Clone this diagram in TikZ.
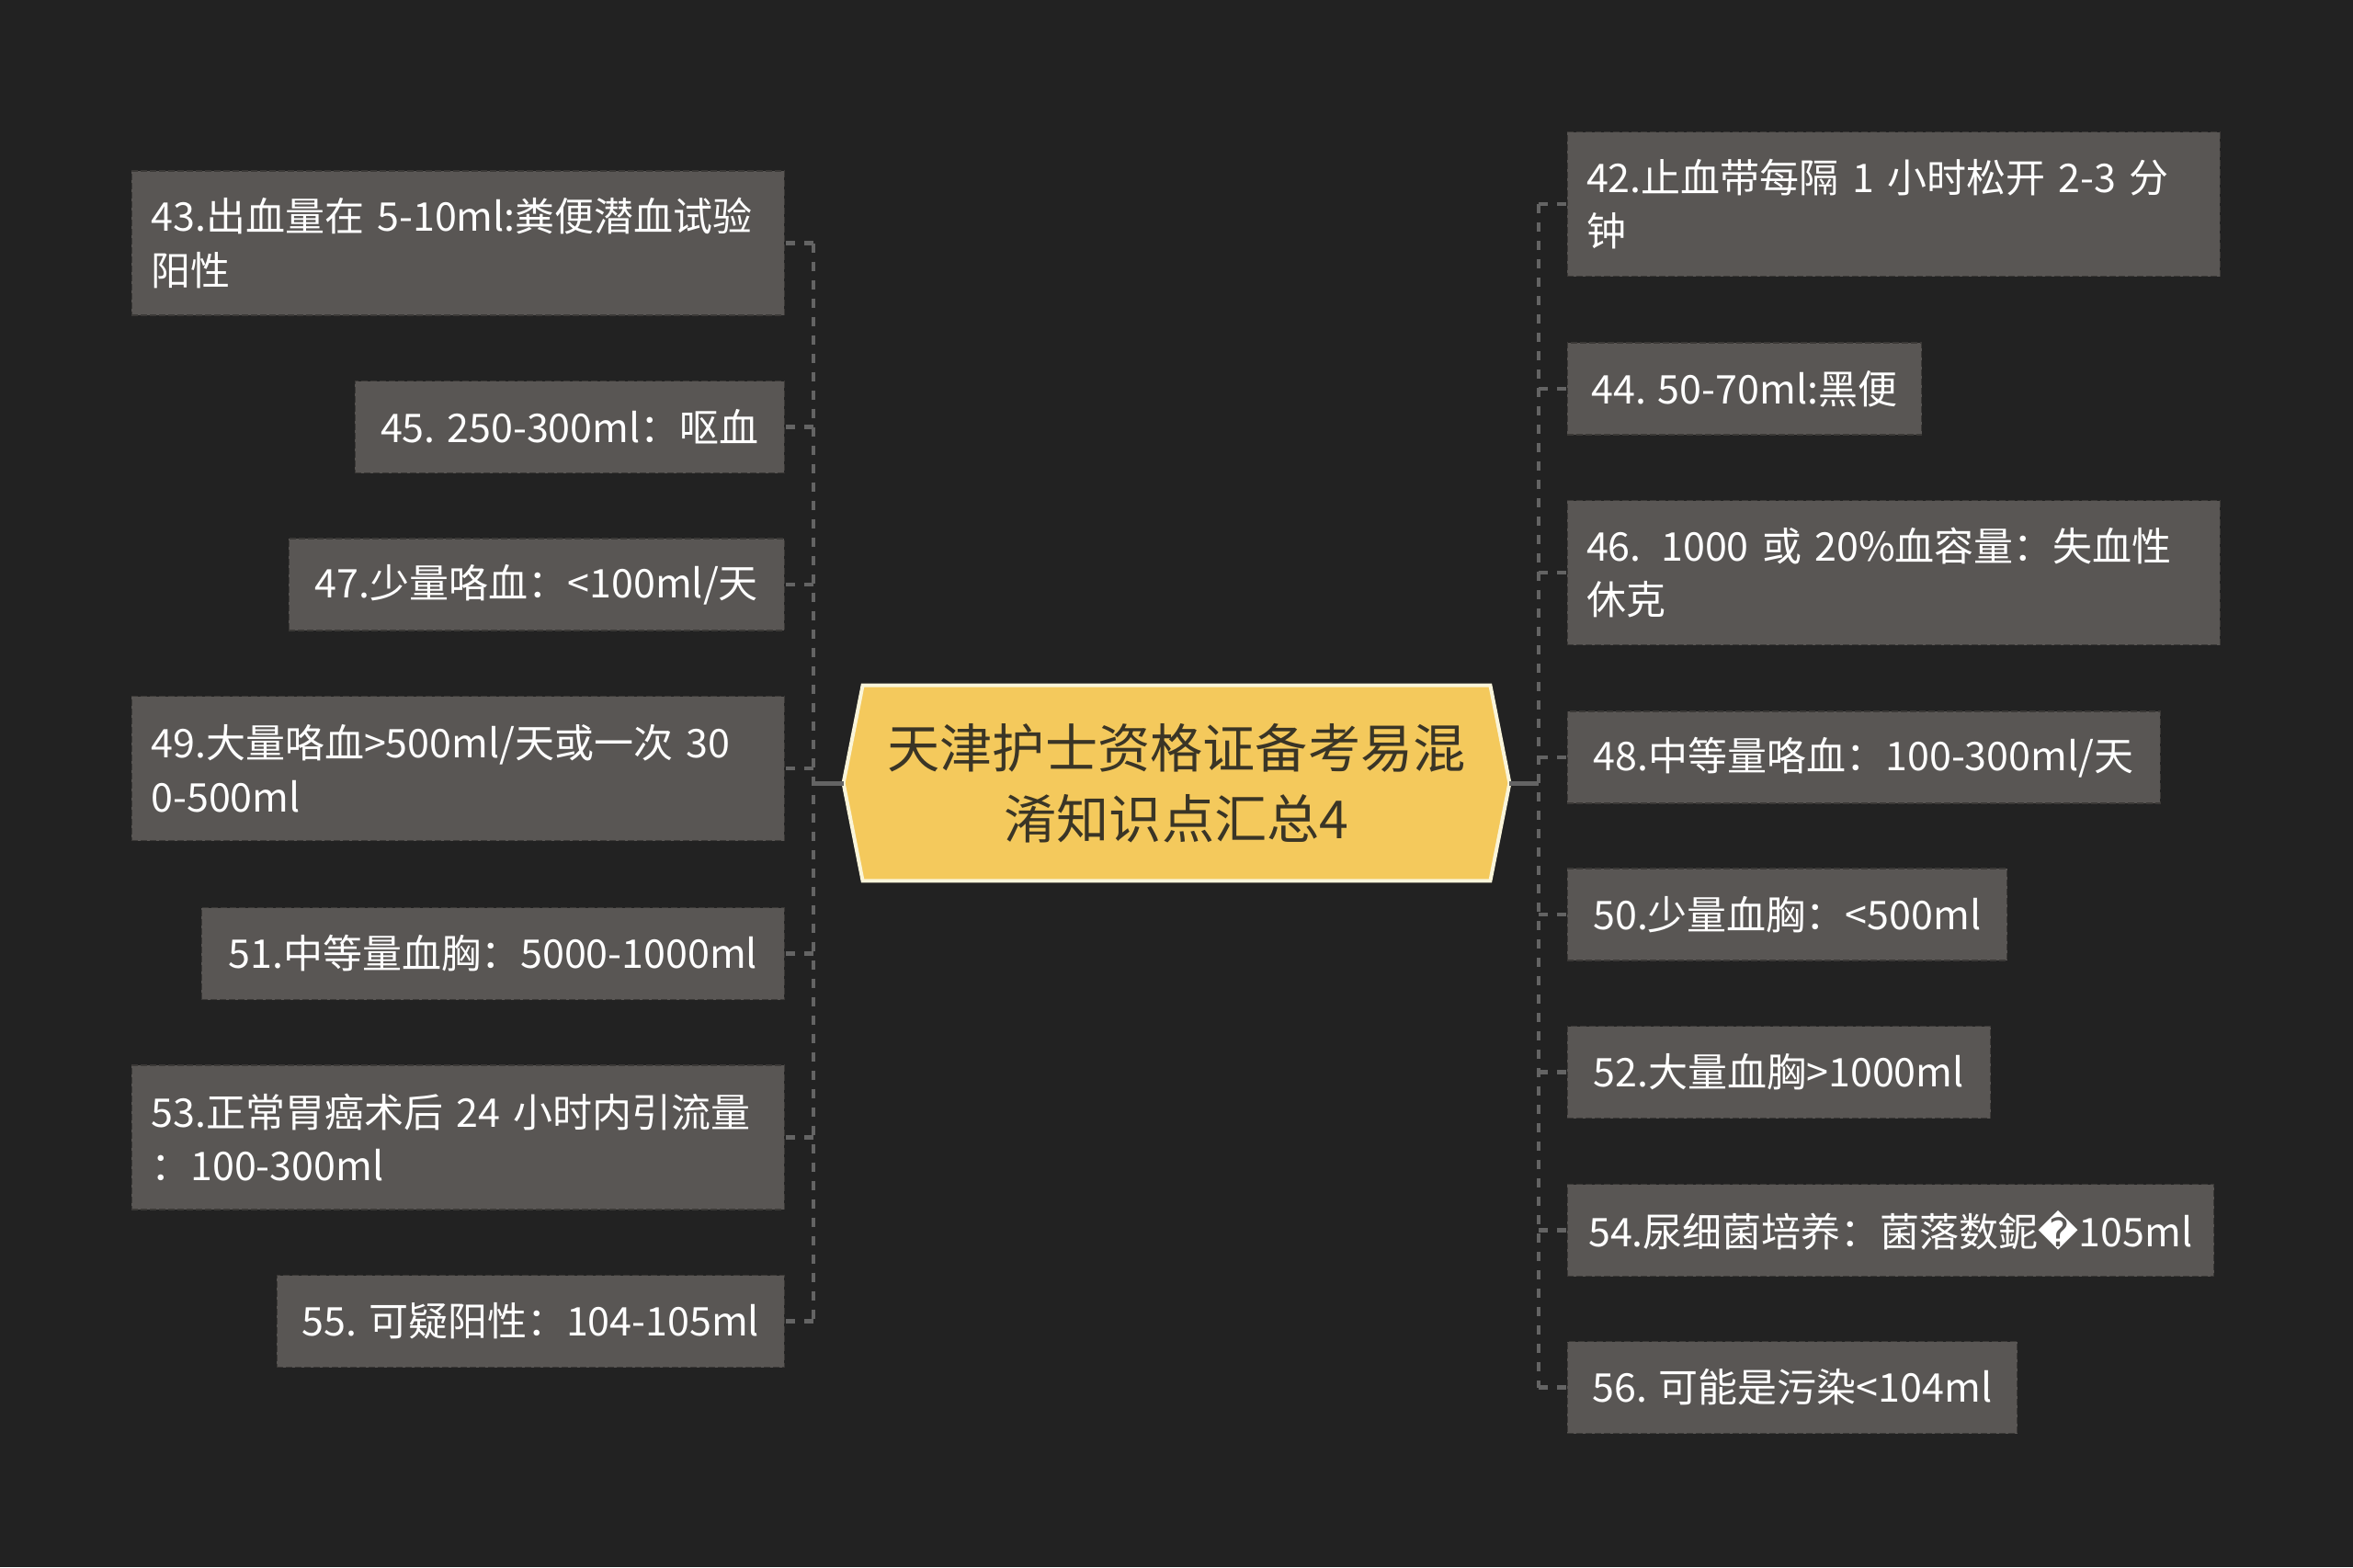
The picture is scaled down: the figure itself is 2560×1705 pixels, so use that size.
\documentclass[tikz,border=0pt]{standalone}
\usepackage{fontspec}
\setmainfont{Noto Sans CJK SC}
\newfontfamily\dejavu{DejaVu Sans}
\usetikzlibrary{calc,backgrounds}
\definecolor{bgc}{HTML}{222222}
\definecolor{boxfill}{HTML}{595654}
\definecolor{boxline}{HTML}{3B3937}
\definecolor{linec}{HTML}{646464}
\definecolor{hexfill}{HTML}{F4C95C}
\definecolor{hexline}{HTML}{FAF5DA}
\definecolor{hextext}{HTML}{3A3526}
\tikzset{
  leaf/.style={fill=boxfill, draw=boxline, line width=0.6pt, dash pattern=on 3.5pt off 1.5pt,
    text=white, font=\fontsize{21.5pt}{29.4pt}\selectfont, inner xsep=10.5pt, inner ysep=0pt,
    minimum height=50pt},
  twoline/.style={leaf, minimum height=78.5pt, text width=334pt, align=left},
  lleaf/.style={anchor=east},
  rleaf/.style={anchor=west},
  conn/.style={draw=linec, line width=2.4pt, dash pattern=on 5pt off 5pt},
  trunk/.style={draw=linec, line width=2.5pt},
  hub/.style={text=hextext, font=\fontsize{28.6pt}{38.5pt}\selectfont, align=center,
    minimum width=341pt, minimum height=106pt, inner sep=0pt},
  hexa/.style={fill=hexfill, draw=hexline, line width=2pt}
}
\begin{document}
\begin{tikzpicture}[x=0.5pt,y=-0.5pt]
\useasboundingbox (0,0) rectangle (2560,1705);
% hub
\node[hub] (c) at (1280,852) {天津护士资格证备考易混\\淆知识点汇总4};
\coordinate (cl) at ($(c.west)+(-21,0)$);
\coordinate (cr) at ($(c.east)+(21,0)$);
\begin{scope}[on background layer]
  \fill[bgc] (0,0) rectangle (2560,1705);
  \draw[hexa] (c.north west) -- (c.north east) -- (cr) -- (c.south east) -- (c.south west) -- (cl) -- cycle;
\end{scope}
% left leaves
\node[twoline,lleaf] (l43) at (854,264.5) {43.出血量在 5-10ml:粪便潜血试验\\阳性};
\node[leaf,lleaf,minimum width=233.5pt] (l45) at (854,464.5) {45. 250-300ml：呕血};
\node[leaf,lleaf,minimum width=269.5pt] (l47) at (854,636) {47.少量咯血：<100ml/天};
\node[twoline,lleaf] (l49) at (854,836) {49.大量咯血>500ml/天或一次 30\\0-500ml};
\node[leaf,lleaf,minimum width=317pt] (l51) at (854,1037.5) {51.中等量血胸：5000-1000ml};
\node[twoline,lleaf] (l53) at (854,1237.5) {53.正常胃癌术后 24 小时内引流量\\：100-300ml};
\node[leaf,lleaf,minimum width=276pt] (l55) at (854,1437.5) {55. 可疑阳性：104-105ml};
% right leaves
\node[twoline,rleaf] (r42) at (1704.5,222) {42.止血带每隔 1 小时松开 2-3 分\\钟};
\node[leaf,rleaf,minimum width=192.75pt] (r44) at (1704.5,423) {44. 50-70ml:黑便};
\node[twoline,rleaf] (r46) at (1704.5,623) {46. 1000 或 20\%血容量：失血性\\休克};
\node[leaf,rleaf,minimum width=322.5pt] (r48) at (1704.5,824) {48.中等量咯血：100-300ml/天};
\node[leaf,rleaf,minimum width=239.25pt] (r50) at (1704.5,995) {50.少量血胸：<500ml};
\node[leaf,rleaf,minimum width=230.25pt] (r52) at (1704.5,1166.5) {52.大量血胸>1000ml};
\node[leaf,rleaf,minimum width=351.75pt] (r54) at (1704.5,1338.7) {54.尿细菌培养：菌落数鈮{\dejavu\symbol{"FFFD}}105ml};
\node[leaf,rleaf,minimum width=244.75pt] (r56) at (1704.5,1509.5) {56. 可能是污染<104ml};
% connectors left
\draw[trunk] (cl) -- ++(-32.6,0) coordinate (ls);
\draw[conn] (ls |- l43.east) -- (ls |- l55.east);
\foreach \n in {l43,l45,l47,l49,l51,l53,l55}
  \draw[conn] (ls |- \n.east) -- (\n.east);
% connectors right
\draw[trunk] (cr) -- ++(31.5,0) coordinate (rs);
\draw[conn] (rs |- r42.west) -- (rs |- r56.west);
\foreach \n in {r42,r44,r46,r48,r50,r52,r54,r56}
  \draw[conn] (rs |- \n.west) -- (\n.west);
\end{tikzpicture}
\end{document}
